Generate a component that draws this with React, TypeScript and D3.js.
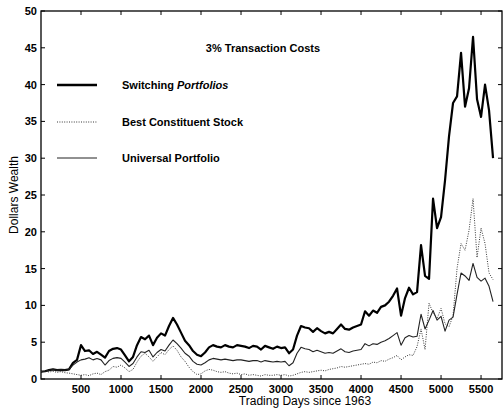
import React from 'react';
import * as d3 from 'd3';

// sampled every 50 trading days, 0..5650
const days = d3.range(0, 5651, 50);

const switching = [
  1.0, 1.05, 1.2, 1.3, 1.2, 1.25, 1.2, 1.3, 2.2, 2.6,
  4.6, 3.8, 3.9, 3.4, 3.7, 3.3, 2.9, 3.8, 4.1, 4.2,
  4.0, 3.2, 2.4, 3.0, 4.6, 5.7, 5.4, 5.9, 4.6, 5.6,
  6.2, 5.9, 7.2, 8.3, 7.4, 6.3, 5.2, 4.6, 3.8, 3.3,
  3.1, 3.6, 4.3, 4.6, 4.4, 4.3, 4.6, 4.4, 4.3, 4.6,
  4.5, 4.4, 4.2, 4.5, 4.4, 4.0, 4.5, 4.3, 4.1, 4.4,
  4.2, 4.3, 3.5, 4.0, 5.9, 7.2, 7.0, 6.9, 6.4, 6.9,
  6.5, 6.2, 6.4, 6.2, 6.8, 7.4, 6.8, 6.7, 7.0, 7.2,
  7.4, 9.2, 8.6, 9.3, 9.0, 9.8, 10.0, 10.5, 11.3, 12.3,
  8.6, 11.0, 12.4, 11.5, 11.8, 18.2, 14.0, 13.6, 24.5, 20.5,
  22.0, 27.0, 33.0, 37.5, 38.4, 44.3, 37.0, 39.5, 46.5, 38.0,
  35.6, 40.0, 36.5, 30.0,
];

const bestStock = [
  1.0, 1.1, 0.95, 1.05, 0.9, 1.0, 0.85, 0.8, 0.7, 0.6,
  0.5, 0.6, 0.45, 0.7, 0.8, 0.6, 1.0, 1.2, 1.7, 1.6,
  1.9, 1.5, 1.0, 1.3, 2.3, 3.1, 3.5, 3.0, 2.4, 3.0,
  3.6, 3.3, 4.0, 4.5, 3.9, 3.0, 2.4, 1.6, 1.0, 0.6,
  0.7, 1.1, 1.3, 1.2, 1.0, 0.9, 1.0, 0.8, 0.7, 0.8,
  0.6, 0.7, 0.5, 0.6, 0.5, 0.4, 0.6, 0.5, 0.5, 0.6,
  0.5, 0.6, 0.4, 0.5, 0.7, 0.9, 1.0, 0.9, 1.0, 1.1,
  1.2, 1.1, 1.3, 1.4, 1.5, 1.7, 1.6, 1.7, 1.8, 1.9,
  2.0, 2.1, 2.0, 2.3, 2.2, 2.5, 2.4, 2.7, 2.9, 3.2,
  2.6, 3.0, 3.3, 3.2, 4.4, 6.8, 4.0, 10.3, 9.0, 8.2,
  9.6, 7.5, 7.1, 8.6, 15.0, 18.4, 17.5, 20.2, 24.5, 16.5,
  20.5, 18.4, 14.4, 13.5,
];

const universal = [
  1.0, 1.05, 1.2, 1.3, 1.2, 1.25, 1.2, 1.3, 1.9, 2.3,
  2.6, 2.7, 2.9, 2.6, 2.8, 2.6, 1.9, 2.5, 2.8, 2.9,
  2.8, 2.3, 1.7, 2.1, 3.0, 3.7, 3.6, 3.9, 3.0, 3.6,
  4.0, 3.8, 4.6, 5.3, 4.8, 4.2, 3.5, 3.1, 2.4, 2.0,
  1.9, 2.2, 2.6, 2.8, 2.7, 2.6, 2.7, 2.6, 2.5, 2.6,
  2.6, 2.5, 2.4, 2.5, 2.5, 2.3, 2.5, 2.4, 2.3, 2.4,
  2.3, 2.4, 1.8, 2.2, 3.5, 4.3, 4.1, 4.0, 3.7, 3.9,
  3.7, 3.5, 3.6, 3.5, 3.8, 4.1, 3.7, 3.6, 3.8, 3.9,
  4.0, 4.8, 4.5, 4.8, 4.7, 5.0, 5.2, 5.5, 5.9, 6.3,
  4.6, 5.6, 5.9, 5.7, 5.8, 8.8, 6.8, 8.0, 9.3, 8.0,
  8.5, 6.5, 8.0, 8.4, 11.5, 14.4, 14.0, 13.4, 15.7, 13.8,
  13.3, 13.7, 12.6, 10.5,
];

const xTicks = [500, 1000, 1500, 2000, 2500, 3000, 3500, 4000, 4500, 5000, 5500];
const yTicks = [0, 5, 10, 15, 20, 25, 30, 35, 40, 45, 50];

const seriesList = [
  { name: 'Switching', values: switching, width: 2.2, dash: null, color: '#000' },
  { name: 'Best Constituent Stock', values: bestStock, width: 0.9, dash: '1,1.4', color: '#222' },
  { name: 'Universal Portfolio', values: universal, width: 1.1, dash: null, color: '#222' },
];

export default function App() {
  const W = 503, H = 411;
  const left = 41, right = 502, top = 11, bottom = 379;
  const font = '"Liberation Sans", Arial, Helvetica, sans-serif';

  const x = d3.scaleLinear().domain([0, 5762]).range([left, right]);
  const y = d3.scaleLinear().domain([0, 50]).range([bottom, top]);

  const line = (vals: number[]) =>
    d3.line<number>()
      .x((_, i) => x(days[i]))
      .y(d => y(d))(vals) || '';

  const tickLen = 4;

  return (
    <svg width={W} height={H} style={{ position: 'absolute', left: 0, top: 0, background: '#fff' }}>
      <g fontFamily={font}>
        {/* frame */}
        <rect x={left} y={top} width={right - left} height={bottom - top} fill="none" stroke="#000" strokeWidth={1.3} />

        {/* x ticks, inward on bottom and top */}
        {xTicks.map(t => (
          <g key={'x' + t}>
            <line x1={x(t)} x2={x(t)} y1={bottom} y2={bottom - tickLen} stroke="#000" />
            <line x1={x(t)} x2={x(t)} y1={top} y2={top + tickLen} stroke="#000" />
            <text x={x(t)} y={bottom + 14} textAnchor="middle" fontSize={11} fontWeight="bold">{t}</text>
          </g>
        ))}

        {/* y ticks, inward on left and right */}
        {yTicks.map(t => (
          <g key={'y' + t}>
            <line x1={left} x2={left + tickLen} y1={y(t)} y2={y(t)} stroke="#000" />
            <line x1={right} x2={right - tickLen} y1={y(t)} y2={y(t)} stroke="#000" />
            <text x={left - 4} y={y(t)} dy="0.36em" textAnchor="end" fontSize={11} fontWeight="bold">{t}</text>
          </g>
        ))}

        {/* series */}
        {seriesList.map(s => (
          <path key={s.name} d={line(s.values)} fill="none" stroke={s.color} strokeWidth={s.width}
            strokeDasharray={s.dash || undefined} strokeLinejoin="round" />
        ))}

        {/* title + legend */}
        <text x={263} y={52} textAnchor="middle" fontSize={11} fontWeight="bold">3% Transaction Costs</text>

        <line x1={57} x2={97} y1={85} y2={85} stroke="#000" strokeWidth={2.4} />
        <text x={122} y={89} fontSize={11} fontWeight="bold">
          Switching <tspan fontStyle="italic">Portfolios</tspan>
        </text>

        <line x1={57} x2={97} y1={122} y2={122} stroke="#222" strokeWidth={0.9} strokeDasharray="1,1.4" />
        <text x={122} y={126} fontSize={11} fontWeight="bold">Best Constituent Stock</text>

        <line x1={57} x2={97} y1={158} y2={158} stroke="#222" strokeWidth={1} />
        <text x={122} y={162} fontSize={11} fontWeight="bold">Universal Portfolio</text>

        {/* axis labels */}
        <text x={305} y={405} textAnchor="middle" fontSize={12}>Trading Days since 1963</text>
        <text transform={`translate(18,${(top + bottom) / 2}) rotate(-90)`} textAnchor="middle" fontSize={12}>Dollars Wealth</text>
      </g>
    </svg>
  );
}
